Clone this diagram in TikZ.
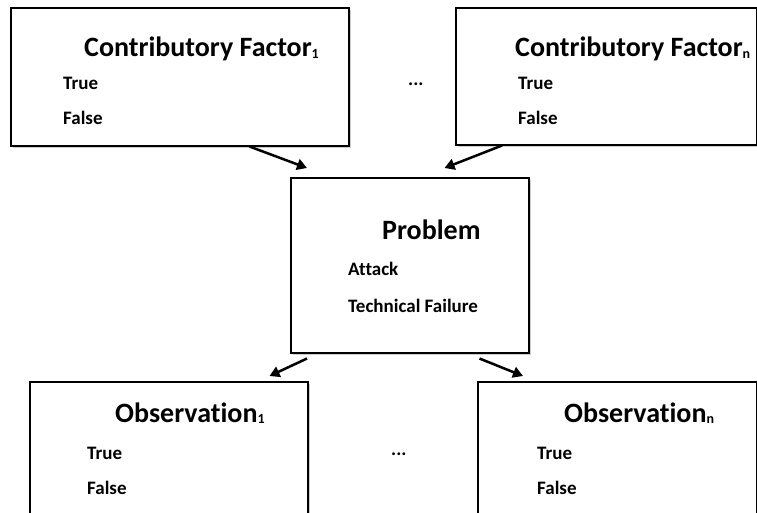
\documentclass[tikz,border=0pt]{standalone}
\usepackage{fontspec}
\setmainfont{Carlito}[Ligatures=NoCommon]
\usepackage{tikz}
\usetikzlibrary{positioning,arrows.meta,shadows}

\newcommand{\idx}[1]{{\fontsize{14}{14}\selectfont\raisebox{-1.5pt}{#1}}}

\tikzset{
  box/.style={draw, line width=1.5pt, fill=white, rectangle, anchor=north west, inner sep=0pt,
    drop shadow={shadow xshift=2pt, shadow yshift=-2pt, opacity=0.2, fill=black}},
  title/.style={anchor=west, inner sep=0pt, font=\fontsize{28}{32}\selectfont\bfseries},
  item/.style={anchor=west, inner sep=0pt, font=\fontsize{19}{22}\selectfont\bfseries},
  arr/.style={line width=2.5pt, -{Triangle[length=10pt,width=11pt]}}
}

\begin{document}
\begin{tikzpicture}[x=1pt,y=-1pt]
      \useasboundingbox (0,0) rectangle (757,512);
      \clip (0,0) rectangle (757,512);

      % factors
      \node[box, minimum width=338pt, minimum height=138pt] (cf1) at (10,7) {};
      \node[box, minimum width=301pt, minimum height=137pt] (cfn) at (455,7) {};
      \node[title] (cf1t) at (84,49) {Contributory Factor\idx{1}};
      \node[item] (cf1a) at (63,83) {True};
      \node[item] (cf1b) at (63,118) {False};
      \node[title] (cfnt) at (515,49) {Contributory Factor\idx{n}};
      \node[item] (cfna) at (518,83) {True};
      \node[item] (cfnb) at (518,118) {False};
      \node[item] (dots1) at (408,84) {...};

      % problem
      \node[box, minimum width=238pt, minimum height=175pt] (prob) at (290,177) {};
      \node[title] (probt) at (382,230) {Problem};
      \node[item] (proba) at (348,269) {Attack};
      \node[item] (probb) at (348,306) {Technical Failure};

      % observations
      \node[box, minimum width=278pt, minimum height=150pt] (obs1) at (29,381) {};
      \node[box, minimum width=279pt, minimum height=150pt] (obsn) at (477,381) {};
      \node[title] (obs1t) at (115,413) {Observation\idx{1}};
      \node[item] (obs1a) at (87,453) {True};
      \node[item] (obs1b) at (87,488) {False};
      \node[title] (obsnt) at (564,413) {Observation\idx{n}};
      \node[item] (obsna) at (537,453) {True};
      \node[item] (obsnb) at (537,488) {False};
      \node[item] (dots2) at (391,454) {...};

      \draw[arr] ([xshift=-100pt]cf1.south east) -- ([xshift=17pt,yshift=9pt]prob.north west);
      \draw[arr] ([xshift=47pt]cfn.south west) -- ([xshift=-85pt,yshift=9pt]prob.north east);
      \draw[arr] ([xshift=17pt,yshift=-5pt]prob.south west) -- ([xshift=-39pt,yshift=5pt]obs1.north east);
      \draw[arr] ([xshift=-50pt,yshift=-5pt]prob.south east) -- ([xshift=46pt,yshift=5pt]obsn.north west);
\end{tikzpicture}
\end{document}
